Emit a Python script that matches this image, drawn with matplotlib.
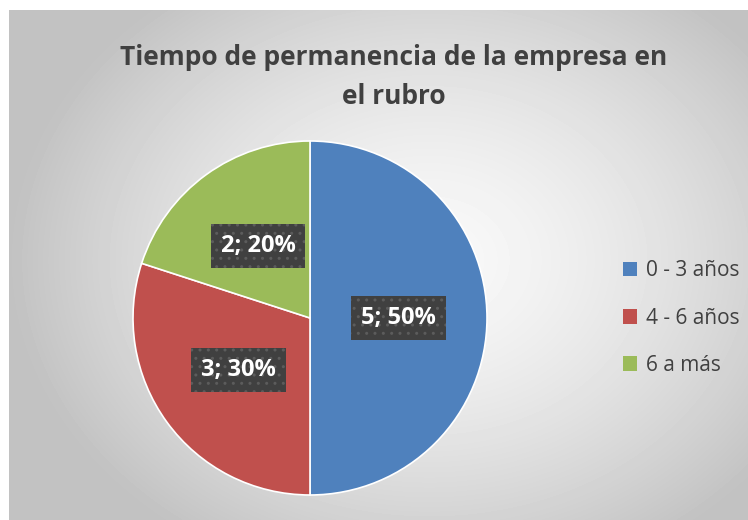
import numpy as np
import matplotlib.pyplot as plt
from matplotlib.patches import Patch

categorias = ["0 - 3 años", "4 - 6 años", "6 a más"]
valores = [5, 3, 2]
colores = ["#4f81bd", "#c0504d", "#9bbb59"]
titulo = "Tiempo de permanencia de la empresa en\nel rubro"

W, H = 748, 520
fig = plt.figure(figsize=(W / 100, H / 100), dpi=100)
fig.patch.set_facecolor("white")

# fondo con degradado radial
bg = fig.add_axes([9 / W, 0, 1 - 9 / W, 1 - 10 / H])
yy, xx = np.mgrid[0:510, 0:739]
cx, cy = 420, 250
r = np.hypot((xx - cx) / 400.0, (yy - cy) / 320.0)
shade = np.clip(0.975 - 0.2 * r ** 1.5, 0.76, 0.975)
bg.imshow(shade, cmap="gray", vmin=0, vmax=1, aspect="auto",
          extent=[0, 1, 0, 1], interpolation="bilinear")
bg.set_axis_off()

fig.text(394 / W, 1 - 77 / H, titulo, ha="center", va="center",
         fontsize=19, fontweight="bold", color="#404040",
         family="Open Sans", linespacing=1.6)

rad = 177
ax = fig.add_axes([(310 - rad) / W, 1 - (318 + rad) / H, 2 * rad / W, 2 * rad / H])
total = sum(valores)
wedges, _, autotexts = ax.pie(
    valores, colors=colores, startangle=90, counterclock=False,
    autopct=lambda p: f"{int(round(p * total / 100))}; {p:.0f}%",
    pctdistance=0.5, wedgeprops=dict(edgecolor="white", linewidth=1.2),
    textprops=dict(color="white", fontsize=17, fontweight="bold", family="Open Sans"))
for t in autotexts:
    t.set_bbox(dict(boxstyle="square,pad=0.42", facecolor="#404040",
                    edgecolor="#5c5c5c", hatch="..", linewidth=0))
ax.set_xlim(-1, 1)
ax.set_ylim(-1, 1)
ax.set_aspect("equal")
ax.set_axis_off()

handles = [Patch(facecolor=c, edgecolor="none") for c in colores]
fig.legend(handles, categorias, loc="center left", bbox_to_anchor=(604 / W, 1 - 318 / H),
           frameon=False, handlelength=0.7, handleheight=0.7, handletextpad=0.4,
           labelspacing=1.25, prop=dict(family="Open Sans", size=15), labelcolor="#404040")

fig.savefig("out.png", dpi=100)
